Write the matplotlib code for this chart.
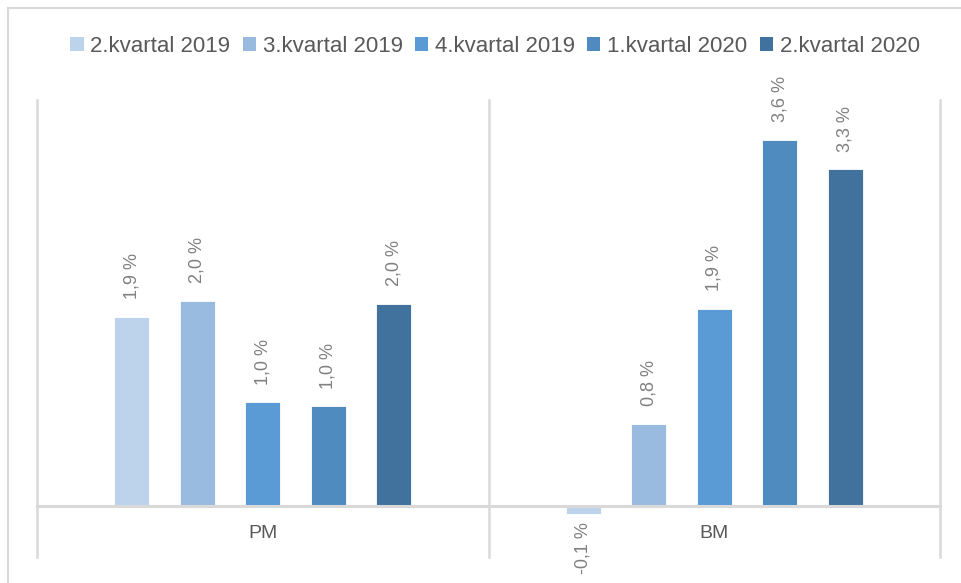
import matplotlib
matplotlib.use("Agg")
import matplotlib.pyplot as plt
from matplotlib.patches import Patch, Rectangle
import numpy as np

categories = ["PM", "BM"]
series = ["2.kvartal 2019", "3.kvartal 2019", "4.kvartal 2019", "1.kvartal 2020", "2.kvartal 2020"]
values = {
    "2.kvartal 2019": [1.86, -0.08],
    "3.kvartal 2019": [2.02, 0.81],
    "4.kvartal 2019": [1.02, 1.94],
    "1.kvartal 2020": [0.98, 3.60],
    "2.kvartal 2020": [1.99, 3.31],
}
colors = ["#BDD3EC", "#9ABBE0", "#5B9BD5", "#4F8BBF", "#41729D"]

plt.rcParams['font.family'] = ['Liberation Sans', 'DejaVu Sans']

W, H = 961, 583
fig = plt.figure(figsize=(W / 100, H / 100), dpi=100)

# outer chart frame
fig.patches.append(Rectangle((8 / W, -0.1), 1.2, 1 - 8 / H + 0.1, transform=fig.transFigure,
                             fill=False, edgecolor="#d9d9d9", linewidth=1.5))

left, right, top, bottom = 37, 940, 100, 557
ax = fig.add_axes([left / W, 1 - bottom / H, (right - left) / W, (bottom - top) / H])
ax.set_xlim(-0.5, 1.5)
ax.set_ylim(-0.50, 3.99)
ax.axis("off")

x = np.arange(len(categories))
step = 0.145
width = 0.0775
n = len(series)
for i, (s, c) in enumerate(zip(series, colors)):
    off = (i - (n - 1) / 2) * step
    vals = values[s]
    ax.bar(x + off, vals, width=width, color=c, edgecolor="white", linewidth=0.6, zorder=2)
    for xi, v in zip(x + off, vals):
        lbl = f"{v:.1f}".replace(".", ",") + " %"
        if v >= 0:
            ax.annotate(lbl, (xi, v), xytext=(0, 12.5), textcoords="offset points",
                        rotation=90, ha="center", va="bottom", fontsize=13, color="#808080")
        else:
            ax.annotate(lbl, (xi, v), xytext=(0, -5.5), textcoords="offset points",
                        rotation=90, ha="center", va="top", fontsize=13, color="#808080")

# category separators and zero axis
for xv in [-0.5, 0.5, 1.5]:
    ax.axvline(xv, color="#d9d9d9", linewidth=1.8, zorder=1, clip_on=False)
ax.axhline(0, color="#d9d9d9", linewidth=2.2, zorder=3, clip_on=False)

for xi, cat in zip(x, categories):
    ax.text(xi, -0.27, cat, ha="center", va="center", fontsize=14, color="#595959")

handles = [Patch(facecolor=c, edgecolor="none", label=s) for s, c in zip(series, colors)]
fig.legend(handles=handles, loc="center", bbox_to_anchor=(495 / W, 1 - 46 / H), ncol=5,
           frameon=False, fontsize=16, labelcolor="#595959", handlelength=0.6,
           handleheight=0.6, handletextpad=0.3, columnspacing=0.55)

fig.savefig("out.png", dpi=100)
